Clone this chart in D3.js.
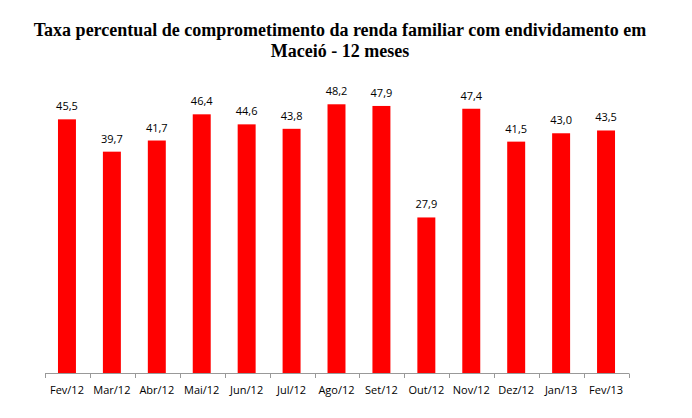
<!DOCTYPE html>
<html><head><meta charset="utf-8">
<script src="https://cdn.jsdelivr.net/npm/d3@7"></script>
<style>body{margin:0;background:#fff}</style>
</head><body>
<div id="chart"></div>
<script>
const titleLines = ["Taxa percentual de comprometimento da renda familiar com endividamento em", "Maceió - 12 meses"];
const categories = ["Fev/12","Mar/12","Abr/12","Mai/12","Jun/12","Jul/12","Ago/12","Set/12","Out/12","Nov/12","Dez/12","Jan/13","Fev/13"];
const values = [45.5,39.7,41.7,46.4,44.6,43.8,48.2,47.9,27.9,47.4,41.5,43.0,43.5];

const W = 692, H = 418;
const svg = d3.select("#chart").append("svg").attr("width", W).attr("height", H);

svg.selectAll("text.title").data(titleLines).enter().append("text")
  .attr("class","title")
  .attr("x", 340).attr("y", (d,i) => 36 + i*21)
  .attr("text-anchor","middle")
  .style("font-family","'Liberation Serif','Times New Roman',serif")
  .style("font-weight","bold").style("font-size","18px").attr("fill","#000")
  .text(d => d);

const x = d3.scaleBand().domain(categories).range([45, 629]).paddingInner(0.6).paddingOuter(0.3);
const y = d3.scaleLinear().domain([0, 60]).range([373, 38.5]);

svg.selectAll("rect.bar").data(values).enter().append("rect")
  .attr("class","bar")
  .attr("x", (d,i) => x(categories[i]) - 0.5)
  .attr("width", x.bandwidth())
  .attr("y", d => y(d))
  .attr("height", d => y(0) - y(d))
  .attr("fill", "#ff0000");

const fmt = d => d.toFixed(1).replace(".", ",");
svg.selectAll("text.val").data(values).enter().append("text")
  .attr("class","val")
  .attr("x", (d,i) => x(categories[i]) + x.bandwidth()/2 - 0.5)
  .attr("y", d => y(d) - 9)
  .attr("text-anchor","middle")
  .style("font-family","'Open Sans',sans-serif").style("font-size","11px").attr("fill","#000")
  .text(fmt);

const axisG = svg.append("g");
axisG.append("line").attr("x1",45).attr("x2",629).attr("y1",373.5).attr("y2",373.5)
  .attr("stroke","#999").attr("stroke-width",1);
const tickPos = d3.range(categories.length + 1).map(i => 45 + i*(584/categories.length));
axisG.selectAll("line.tick").data(tickPos).enter().append("line")
  .attr("class","tick")
  .attr("x1", d => Math.round(d)+0.5).attr("x2", d => Math.round(d)+0.5)
  .attr("y1", 373.5).attr("y2", 378).attr("stroke","#999");
axisG.selectAll("text.cat").data(categories).enter().append("text")
  .attr("class","cat")
  .attr("x", d => x(d) + x.bandwidth()/2 - 0.5)
  .attr("y", 394)
  .attr("text-anchor","middle")
  .style("font-family","'Open Sans',sans-serif").style("font-size","11px").attr("fill","#000")
  .text(d => d);
</script>
</body></html>
